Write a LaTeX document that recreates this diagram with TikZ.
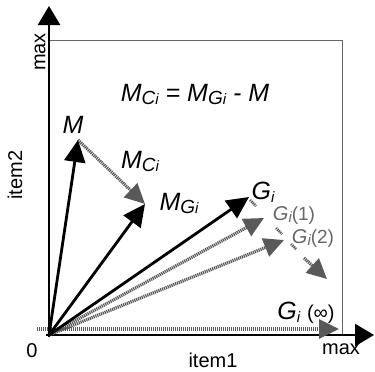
\documentclass[tikz,border=0pt]{standalone}
\usepackage{fontspec}
\setmainfont{Liberation Sans}
\usetikzlibrary{arrows.meta}
\newcommand{\sbs}[1]{\raisebox{-0.12em}{\fontsize{19}{19}\selectfont #1}}
\newcommand{\sbi}{\raisebox{-0.12em}{\fontsize{15}{15}\selectfont i}}
\begin{document}
\begin{tikzpicture}[x=1pt,y=-1pt,
  axis/.style={line width=2.6pt, -{Triangle[length=19pt,width=22pt]}},
  vec/.style={line width=2.8pt, -{Triangle[length=22pt,width=21pt]}},
  dvec/.style={draw=black!65, line width=3.2pt, dash pattern=on 1.2pt off 0.8pt,
     -{Triangle[length=20pt,width=19pt,fill=black!65]}},
  dseg/.style={draw=black!65, line width=2.6pt, dash pattern=on 1.2pt off 0.8pt},
  lab/.style={font=\fontsize{25}{27}\selectfont\itshape, inner sep=0pt},
  glab/.style={font=\fontsize{20}{22}\selectfont\itshape, inner sep=0pt, text=black!60},
  axlab/.style={font=\fontsize{20}{22}\selectfont, inner sep=0pt}]
\useasboundingbox (0,0) rectangle (375,372);
% frame
\coordinate (O) at (49,335);
\coordinate (Ytop) at (49,6);
\coordinate (Xend) at (374,335);
\coordinate (TR) at (342,40);
\draw[black!60, line width=0.8pt] (O |- TR) -- (TR) -- (TR |- O);
\draw[axis] (49,337) -- (Ytop);
\draw[axis] (46,335) -- (Xend);
% axis labels
\node[axlab, rotate=90] (ymax) at (40,52) {max};
\node[axlab, rotate=90] (item2) at (15,175) {item2};
\node[axlab] (zero) at (32,351) {0};
\node[axlab] (item1) at (213,360) {item1};
\node[axlab] (xmax) at (341,349) {max};
% vector tips
\coordinate (M) at (78,140);
\coordinate (MG) at (145,204);
\coordinate (G) at (249,197);
\coordinate (G1) at (264,218);
\coordinate (G2) at (284,240);
\coordinate (Ginf0) at (37,329);
\coordinate (Ginf) at (339,329);
\coordinate (Gend) at (327,279);
% dotted vectors
\draw[dvec] (O) -- (G1);
\draw[dvec] (O) -- (G2);
\draw[dvec] (Ginf0) -- (Ginf);
\draw[dvec] (M) -- (MG);
% progression
\draw[dseg] (250,200) -- (256,206);
\draw[dseg] (276,228) -- (282,234);
\draw[dseg] (291,244) -- (296,249);
\draw[dvec] (304,258) -- (Gend);
% solid vectors
\draw[vec] (O) -- (M);
\draw[vec] (O) -- (MG);
\draw[vec] (O) -- (G);
% labels
\node[lab] (formula) at (195,94) {M\sbs{C}\sbi{} = M\sbs{G}\sbi{} - M};
\node[lab] (Mlab) at (73,125) {M};
\node[lab] (MClab) at (140,161) {M\sbs{C}\sbi};
\node[lab] (MGlab) at (179,203) {M\sbs{G}\sbi};
\node[lab] (Glab) at (263,192) {G\sbi};
\node[glab] (G1lab) at (294,215) {G\sbi\upshape\fontsize{19}{20}\selectfont(1)};
\node[glab] (G2lab) at (313,238) {G\sbi\upshape\fontsize{19}{20}\selectfont(2)};
\node[lab] (Ginflab) at (306,313) {G\sbi{} \upshape\fontsize{20}{22}\selectfont(∞)};
\end{tikzpicture}
\end{document}
